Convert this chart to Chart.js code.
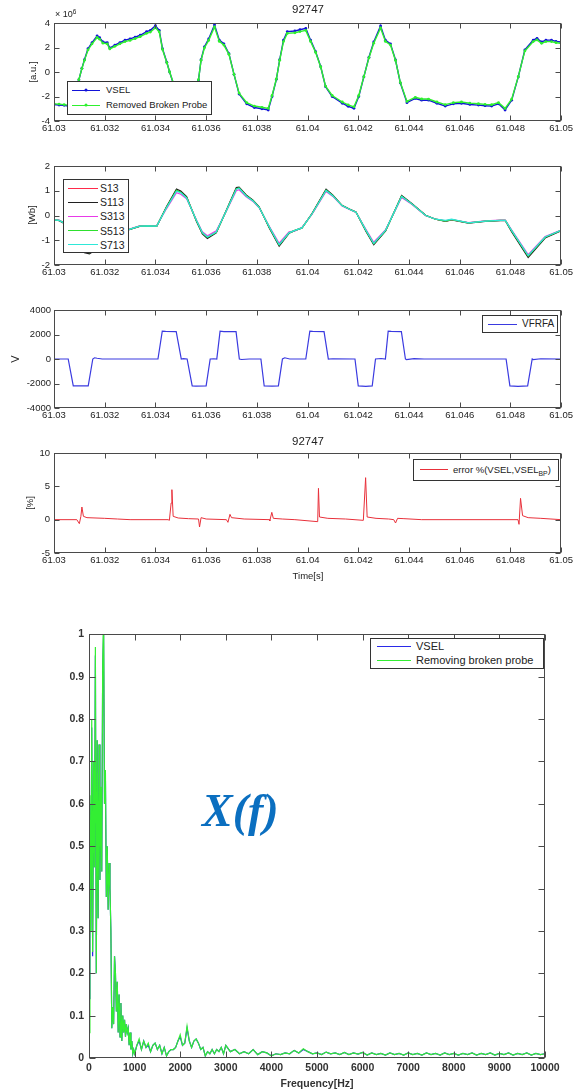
<!DOCTYPE html>
<html><head><meta charset="utf-8">
<script src="https://cdn.jsdelivr.net/npm/chart.js@4.4.1/dist/chart.umd.min.js"></script>
<style>
html,body{margin:0;padding:0;background:#fff;overflow:hidden;}
#wrap{position:relative;width:575px;height:1091px;font-family:"Liberation Sans",Arial,sans-serif;color:#222;}
canvas{position:absolute;left:0;}
.t{position:absolute;white-space:nowrap;line-height:1;}
.c{transform:translate(-50%,-50%);}
.r{transform:translate(-50%,-50%) rotate(-90deg);}
.leg{position:absolute;background:#fff;border:1px solid #333;box-sizing:border-box;z-index:2;}
.sw{position:absolute;height:0;}
.dot{position:absolute;width:3px;height:3px;border-radius:50%;transform:translate(-50%,-50%);}
.lab{position:absolute;transform:translateY(-50%);white-space:nowrap;line-height:1;color:#222;}
sub{font-size:0.72em;vertical-align:-0.35em;line-height:0;}
sup{font-size:0.72em;vertical-align:0.45em;line-height:0;}
</style></head>
<body><div id="wrap"></div>
<script>
// ---------------- DATA ----------------
const timeTicks = [61.03,61.032,61.034,61.036,61.038,61.04,61.042,61.044,61.046,61.048,61.05];

// Panel 1: VSEL vs Removed Broken Probe [a.u. x 1e6]
const t1 = [61.0300,61.0302,61.0304,61.0306,61.0307,61.0309,61.03098,61.0311,61.0312,61.03134,
61.0315,61.0317,61.0318,61.03193,61.0321,61.0322,61.0324,61.0326,61.0328,61.0330,
61.0332,61.0334,61.03365,61.0338,61.0340,61.03415,61.03428,61.03445,61.03456,61.0347,
61.0349,61.0351,61.03523,61.0354,61.0356,61.0357,61.0358,61.03593,61.0361,61.03633,
61.03652,61.0367,61.0369,61.0371,61.0373,61.0376,61.0379,61.0382,61.03845,61.0386,
61.03877,61.0389,61.03905,61.0392,61.0395,61.0397,61.03993,61.04012,61.04032,61.04052,
61.04071,61.04097,61.04137,61.0416,61.04183,61.04202,61.04222,61.04242,61.04261,61.04288,
61.04307,61.04327,61.04347,61.04366,61.04392,61.04425,61.0445,61.04477,61.0451,61.04543,
61.04575,61.04607,61.0464,61.04674,61.047,61.04726,61.04753,61.04779,61.04805,61.04831,
61.04857,61.0489,61.04905,61.04923,61.0494,61.04962,61.0498,61.0500];
const vsel = [-2.65,-2.70,-2.72,-2.80,-2.70,-1.60,-0.65,0.30,1.00,1.90,
2.40,2.95,2.80,2.45,2.40,1.96,2.20,2.40,2.60,2.70,
2.85,3.00,3.30,3.40,3.78,3.40,1.90,0.80,0.00,-0.90,
-2.20,-3.10,-3.40,-2.80,-1.30,-0.65,1.00,2.05,2.70,3.85,
2.60,2.30,1.50,-0.20,-1.80,-2.60,-2.90,-3.00,-3.10,-2.00,
-0.60,1.00,2.60,3.30,3.35,3.45,3.56,2.60,1.66,0.43,
-1.20,-2.00,-2.55,-2.80,-2.96,-2.00,-0.40,1.20,2.45,3.76,
2.60,2.30,0.98,-0.90,-2.50,-2.16,-2.30,-2.30,-2.55,-2.78,
-2.60,-2.55,-2.65,-2.70,-2.75,-2.78,-2.60,-3.10,-2.30,-0.40,
1.80,2.60,2.75,2.45,2.60,2.60,2.50,2.45];
const removedBP = [-2.60,-2.62,-2.66,-2.72,-2.64,-1.55,-0.62,0.28,0.95,1.80,
2.30,2.82,2.68,2.35,2.30,1.88,2.10,2.30,2.48,2.58,
2.72,2.88,3.16,3.26,3.62,3.28,1.84,0.76,0.00,-0.86,
-2.10,-2.98,-3.26,-2.70,-1.25,-0.62,0.95,1.96,2.58,3.68,
2.50,2.20,1.44,-0.19,-1.72,-2.50,-2.78,-2.88,-2.97,-1.92,
-0.57,0.95,2.48,3.15,3.20,3.30,3.40,2.50,1.60,0.41,
-1.15,-1.92,-2.45,-2.68,-2.84,-1.92,-0.38,1.15,2.35,3.60,
2.50,2.20,0.94,-0.86,-2.40,-2.07,-2.20,-2.21,-2.45,-2.66,
-2.50,-2.45,-2.54,-2.59,-2.64,-2.67,-2.50,-2.97,-2.21,-0.38,
1.72,2.48,2.62,2.34,2.48,2.48,2.39,2.34];
const p1YTicks = [-4,-2,0,2,4];

// Panel 2: fluxes [Wb]
const t2 = [61.0300,61.0302,61.0304,61.0306,61.0309,61.0312,61.0314,61.0317,61.0321,61.0326,
61.0330,61.03338,61.0337,61.03405,61.03444,61.03483,61.0350,61.03523,61.03562,61.03585,
61.03605,61.0364,61.0368,61.03719,61.0373,61.03758,61.03785,61.03809,61.03849,61.03888,
61.03927,61.0395,61.03978,61.04018,61.04073,61.0410,61.04136,61.04165,61.04191,61.0423,
61.04261,61.04308,61.04371,61.04411,61.04466,61.04505,61.04544,61.04568,61.04635,61.04701,
61.0476,61.0478,61.04804,61.0487,61.04937,61.0500];
const s13 = [-0.18,-0.20,-0.30,-0.60,-1.10,-1.45,-1.50,-1.30,-0.90,-0.65,
-0.55,-0.43,-0.42,-0.43,0.33,1.03,0.95,0.73,-0.21,-0.70,
-0.88,-0.68,0.20,1.08,1.12,0.80,0.60,0.33,-0.47,-1.20,
-0.70,-0.60,-0.50,0.07,1.03,0.80,0.40,0.25,0.13,-0.60,
-1.15,-0.60,0.78,0.47,0.00,-0.15,-0.23,-0.17,-0.30,-0.23,
-0.20,-0.20,-0.60,-1.65,-0.88,-0.60];
const s113 = [-0.18,-0.21,-0.32,-0.63,-1.15,-1.50,-1.55,-1.34,-0.93,-0.67,
-0.56,-0.44,-0.43,-0.44,0.36,1.07,0.99,0.76,-0.24,-0.74,
-0.93,-0.70,0.22,1.13,1.15,0.83,0.62,0.35,-0.50,-1.24,
-0.72,-0.61,-0.51,0.09,1.06,0.82,0.41,0.26,0.14,-0.63,
-1.18,-0.62,0.81,0.49,0.01,-0.15,-0.24,-0.18,-0.31,-0.24,
-0.21,-0.21,-0.64,-1.70,-0.91,-0.62];
const s313 = [-0.17,-0.19,-0.29,-0.57,-1.05,-1.40,-1.45,-1.26,-0.87,-0.63,
-0.54,-0.42,-0.41,-0.42,0.28,0.92,0.86,0.68,-0.18,-0.66,
-0.82,-0.62,0.18,1.00,1.04,0.76,0.57,0.31,-0.44,-1.12,
-0.66,-0.62,-0.48,0.05,0.97,0.77,0.38,0.24,0.12,-0.56,
-1.08,-0.57,0.73,0.45,-0.01,-0.14,-0.22,-0.17,-0.29,-0.22,
-0.19,-0.19,-0.57,-1.58,-0.85,-0.59];
const s513 = [-0.18,-0.20,-0.30,-0.60,-1.10,-1.45,-1.50,-1.30,-0.90,-0.65,
-0.55,-0.43,-0.42,-0.43,0.33,1.02,0.94,0.72,-0.21,-0.70,
-0.88,-0.68,0.20,1.08,1.11,0.80,0.60,0.33,-0.47,-1.19,
-0.70,-0.60,-0.50,0.07,1.02,0.80,0.40,0.25,0.13,-0.60,
-1.14,-0.60,0.78,0.47,0.00,-0.15,-0.23,-0.17,-0.30,-0.23,
-0.20,-0.20,-0.60,-1.64,-0.88,-0.60];
const s713 = [-0.18,-0.20,-0.30,-0.60,-1.10,-1.44,-1.49,-1.29,-0.90,-0.65,
-0.55,-0.43,-0.42,-0.43,0.32,0.98,0.92,0.71,-0.20,-0.69,
-0.87,-0.67,0.20,1.06,1.10,0.79,0.59,0.33,-0.46,-1.18,
-0.70,-0.60,-0.50,0.07,1.01,0.79,0.40,0.25,0.13,-0.59,
-1.13,-0.59,0.77,0.47,0.00,-0.15,-0.20,-0.15,-0.30,-0.23,
-0.20,-0.20,-0.59,-1.62,-0.87,-0.60];
const p2YTicks = [-2,-1,0,1,2];

// Panel 3: VFRFA [V]
const t3 = [61.0300,61.03056,61.03076,61.03135,61.03153,61.0316,61.0317,61.0319,61.0341,61.03427,
61.0344,61.03482,61.03502,61.0351,61.03525,61.03545,61.0356,61.0360,61.03616,61.0363,
61.03642,61.03655,61.0367,61.03718,61.03731,61.0374,61.0377,61.03816,61.03829,61.0386,
61.03885,61.03901,61.0391,61.0393,61.03993,61.04009,61.0402,61.04065,61.04082,61.041,
61.04187,61.042,61.0423,61.04255,61.04268,61.0429,61.04307,61.04318,61.0433,61.0437,
61.04386,61.0439,61.0442,61.0446,61.04783,61.04798,61.0483,61.04868,61.04886,61.0489,
61.0492,61.0500];
const vfrfa = [0,0,-2200,-2200,0,100,60,0,0,2280,
2250,2240,0,30,0,-2200,-2220,-2200,0,20,
0,2270,2240,2230,0,-40,0,0,-2200,-2220,
-2200,0,100,0,0,2280,2250,2240,0,20,
0,-2200,-2230,-2200,0,40,0,2280,2250,2240,
0,-50,30,0,0,-2200,-2230,-2200,0,-50,
20,0];
const p3YTicks = [-4000,-2000,0,2000,4000];

// Panel 4: error % (VSEL, VSEL_BP)
const t4 = [61.0300,61.0309,61.0310,61.03106,61.0311,61.03116,61.0313,61.0320,61.0325,61.0330,
61.0345,61.03455,61.03462,61.03465,61.0347,61.0349,61.0353,61.0357,61.03574,61.0358,
61.0360,61.0368,61.03686,61.03694,61.0370,61.0375,61.0385,61.03851,61.03859,61.03865,
61.0390,61.0395,61.0404,61.04043,61.04047,61.0408,61.0415,61.0422,61.04229,61.04235,
61.0427,61.0432,61.0434,61.04347,61.04355,61.0438,61.0445,61.0483,61.04834,61.0484,
61.04848,61.0487,61.0492,61.0496,61.0500];
const errPct = [0,0,-0.6,0.5,1.9,0.5,0.3,0.2,0.1,0,
0,-0.1,2.5,4.5,0.5,0.25,0.15,0.1,-1.1,0.3,
0.1,0,-0.4,0.8,0.3,0.1,0,-0.2,1.1,0.2,
0.1,0,-0.3,4.7,0.4,0.2,0.1,-0.1,6.3,0.4,
0.2,0.1,0,-0.5,0.2,0.15,0,0,-0.7,3.2,
0.6,0.3,0.2,0.1,0];
const p4YTicks = [-5,0,5,10];

// Panel 5: spectrum X(f)
const freqHz = [0,20,40,60,80,100,120,140,160,180,200,220,240,260,280,300,320,340,360,380,
400,420,440,460,480,500,520,540,560,580,600,620,640,660,680,700,720,740,760,780,
800,820,840,860,880,900,920,940,960,980,1000,
1050,1100,1150,1200,1250,1300,1350,1400,1450,1500,1550,1600,1650,1700,1750,1800,1850,1900,1950,2000,
2050,2100,2150,2200,2250,2300,2350,2400,2450,2500,2550,2600,2650,2700,2750,2800,2850,2900,2950,3000,
3100,3200,3300,3400,3500,3600,3700,3800,3900,4000,4100,4200,4300,4400,4500,4600,4700,4800,4900,5000,
5100,5200,5300,5400,5500,5600,5700,5800,5900,6000,6100,6200,6300,6400,6500,6600,6700,6800,6900,7000,
7100,7200,7300,7400,7500,7600,7700,7800,7900,8000,8100,8200,8300,8400,8500,8600,8700,8800,8900,9000,
9100,9200,9300,9400,9500,9600,9700,9800,9900,10000];
const fftVsel = [0.14,0.60,0.30,0.78,0.24,0.70,0.45,0.95,0.20,0.75,0.33,0.74,0.42,0.62,0.44,0.92,1.00,0.60,0.66,0.38,
0.50,0.35,0.46,0.40,0.30,0.07,0.12,0.08,0.24,0.20,0.11,0.18,0.06,0.15,0.05,0.13,0.04,0.10,0.06,0.09,
0.05,0.08,0.06,0.07,0.03,0.06,0.02,0.04,0.01,0.02,0.01,
0.03,0.04,0.02,0.04,0.025,0.03,0.015,0.03,0.035,0.02,0.03,0.01,0.025,0.005,0.015,0.02,0.02,0.025,0.04,0.05,
0.03,0.035,0.07,0.04,0.025,0.04,0.045,0.035,0.02,0.025,0.005,0.015,0.01,0.02,0.01,0.02,0.015,0.025,0.01,0.03,
0.015,0.02,0.01,0.015,0.01,0.02,0.008,0.015,0.012,0.005,0.01,0.008,0.012,0.01,0.018,0.012,0.02,0.015,0.01,0.012,
0.008,0.014,0.01,0.012,0.008,0.013,0.008,0.012,0.009,0.013,0.007,0.012,0.008,0.011,0.007,0.012,0.008,0.011,0.007,0.012,
0.008,0.011,0.007,0.012,0.008,0.011,0.007,0.012,0.008,0.011,0.007,0.011,0.008,0.012,0.007,0.011,0.008,0.012,0.007,0.011,
0.008,0.012,0.007,0.011,0.008,0.012,0.007,0.011,0.008,0.01];
const fftRemoved = [0.06,0.62,0.30,0.80,0.25,0.70,0.45,0.97,0.20,0.75,0.33,0.74,0.42,0.64,0.44,0.93,1.05,0.60,0.68,0.38,
0.50,0.35,0.46,0.40,0.30,0.07,0.12,0.08,0.24,0.20,0.11,0.18,0.06,0.15,0.05,0.13,0.04,0.10,0.06,0.09,
0.05,0.08,0.06,0.07,0.03,0.06,0.02,0.04,0.01,0.02,0.01,
0.03,0.045,0.02,0.04,0.025,0.035,0.015,0.03,0.035,0.02,0.03,0.01,0.025,0.005,0.015,0.02,0.02,0.025,0.04,0.055,
0.03,0.035,0.075,0.04,0.025,0.04,0.045,0.035,0.02,0.025,0.005,0.015,0.01,0.02,0.01,0.02,0.015,0.025,0.01,0.03,
0.015,0.02,0.01,0.015,0.01,0.02,0.008,0.015,0.012,0.005,0.01,0.008,0.012,0.01,0.018,0.012,0.022,0.015,0.01,0.012,
0.008,0.014,0.01,0.012,0.008,0.013,0.008,0.012,0.009,0.013,0.007,0.012,0.008,0.011,0.007,0.012,0.008,0.011,0.007,0.012,
0.008,0.011,0.007,0.012,0.008,0.011,0.007,0.012,0.008,0.011,0.007,0.011,0.008,0.012,0.007,0.011,0.008,0.012,0.007,0.011,
0.008,0.012,0.007,0.011,0.008,0.012,0.007,0.011,0.008,0.01];
const freqTicks = [0,1000,2000,3000,4000,5000,6000,7000,8000,9000,10000];
const fftYTicks = [0,0.1,0.2,0.3,0.4,0.5,0.6,0.7,0.8,0.9,1];

// ---------------- RENDER ----------------
const W = 575;
const wrap = document.getElementById('wrap');

const innerTicks = {
  id:'innerTicks',
  afterDatasetsDraw(chart, args, o){
    const {ctx, chartArea:a, scales} = chart;
    const x = scales.x, y = scales.y;
    ctx.save();
    ctx.strokeStyle = o.color; ctx.lineWidth = 1;
    const l = Math.round(a.left)+0.5, r = Math.round(a.right)-0.5, t = Math.round(a.top)+0.5, b = Math.round(a.bottom)-0.5;
    ctx.beginPath();
    x.ticks.forEach(tk=>{const p=Math.round(x.getPixelForValue(tk.value))+0.5; ctx.moveTo(p,b); ctx.lineTo(p,b-o.len); ctx.moveTo(p,t); ctx.lineTo(p,t+o.len);});
    y.ticks.forEach(tk=>{const p=Math.round(y.getPixelForValue(tk.value))+0.5; ctx.moveTo(l,p); ctx.lineTo(l+o.len,p); ctx.moveTo(r,p); ctx.lineTo(r-o.len,p);});
    ctx.stroke();
    ctx.strokeRect(l,t,r-l,b-t);
    ctx.restore();
  }
};
Chart.register(innerTicks);

function xy(xs, ys){ return xs.map((v,i)=>({x:v, y:ys[i]})); }

function panel(g){
  const padTop = 10, xH = g.xH || 24;
  const h = padTop + (g.B - g.T) + xH;
  const c = document.createElement('canvas');
  c.width = W; c.height = h;
  c.style.top = (g.T - padTop)+'px'; c.style.width = W+'px'; c.style.height = h+'px';
  wrap.appendChild(c);
  const font = g.font;
  return new Chart(c.getContext('2d'), {
    type:'line',
    data:{datasets:g.datasets},
    options:{
      responsive:false, animation:false, devicePixelRatio:1,
      layout:{padding:{left:0,right:W-g.R,top:padTop,bottom:0}},
      plugins:{legend:{display:false}, tooltip:{enabled:false}, innerTicks:{len:g.tickLen, color:'#4a4a4a'}},
      elements:{line:{tension:0}},
      scales:{
        x:{type:'linear', min:g.xMin, max:g.xMax,
           afterBuildTicks:s=>{s.ticks = g.xTicks.map(v=>({value:v}));},
           afterFit:s=>{s.height = xH;},
           grid:{display:false, drawTicks:false, tickLength:0}, border:{display:false},
           ticks:{font, color:g.tickColor, padding:g.xPad, maxRotation:0, autoSkip:false, callback:g.xFmt}},
        y:{type:'linear', min:g.yMin, max:g.yMax,
           afterBuildTicks:s=>{s.ticks = g.yTicks.map(v=>({value:v}));},
           afterFit:s=>{s.width = g.L;},
           grid:{display:false, drawTicks:false, tickLength:0}, border:{display:false},
           ticks:{font, color:g.tickColor, padding:g.yPad, autoSkip:false, callback:g.yFmt}}
      }
    }
  });
}

function text(html, x, y, cls, style){
  const d = document.createElement('div');
  d.className = 't ' + cls; d.innerHTML = html;
  d.style.left = x+'px'; d.style.top = y+'px';
  if (style) d.style.cssText += style;
  wrap.appendChild(d);
}

function legend(chart, g){
  const box = document.createElement('div'); box.className = 'leg';
  box.style.cssText += `left:${g.left}px;top:${g.top}px;width:${g.w}px;height:${g.h}px;font-size:${g.fs}px;`;
  chart.data.datasets.forEach((ds,i)=>{
    const y = g.y0 + i*g.dy;
    const sw = document.createElement('div'); sw.className='sw';
    sw.style.cssText += `left:${g.sx0}px;width:${g.sx1-g.sx0}px;top:${y-0.5}px;border-top:1px solid ${ds.borderColor};`;
    box.appendChild(sw);
    if (g.marker){
      const d = document.createElement('div'); d.className='dot';
      d.style.cssText += `left:${(g.sx0+g.sx1)/2}px;top:${y}px;background:${ds.borderColor};`;
      box.appendChild(d);
    }
    const lab = document.createElement('div'); lab.className='lab';
    lab.style.cssText += `left:${g.tx}px;top:${y}px;`;
    lab.innerHTML = (g.html && g.html[i]) || ds.label;
    box.appendChild(lab);
  });
  wrap.appendChild(box);
}

const fontS = {family:'"Liberation Sans", Arial, sans-serif', size:9.5};
const fontB = {family:'"Liberation Sans", Arial, sans-serif', size:10.5, weight:'bold'};
const tFmt = v => String(+(+v).toFixed(3));
const plain = v => String(v);

const BLUE = '#1212d8', GREEN = '#2ef02e';

// Panel 1
const ch1 = panel({T:23,B:121,L:54,R:563, xMin:61.03,xMax:61.05, xTicks:timeTicks, yMin:-4,yMax:4, yTicks:p1YTicks,
  font:fontS, tickColor:'#222', xPad:2, yPad:4, tickLen:5, xFmt:tFmt, yFmt:plain,
  datasets:[
    {label:'VSEL', data:xy(t1,vsel), order:1, borderColor:BLUE, borderWidth:1.4, pointRadius:1.4, pointBackgroundColor:BLUE, pointBorderWidth:0},
    {label:'Removed Broken Probe', data:xy(t1,removedBP), order:0, borderColor:GREEN, borderWidth:1.4, pointRadius:1.4, pointBackgroundColor:GREEN, pointBorderWidth:0}
  ]});
legend(ch1,{left:67,top:81,w:145,h:34,fs:9.5,y0:8,dy:15,sx0:4,sx1:32,tx:38,marker:true});

// Panel 2
const ch2 = panel({T:166,B:265,L:54,R:563, xMin:61.03,xMax:61.05, xTicks:timeTicks, yMin:-2,yMax:2, yTicks:p2YTicks,
  font:fontS, tickColor:'#222', xPad:2, yPad:4, tickLen:5, xFmt:tFmt, yFmt:plain,
  datasets:[
    {label:'S13', data:xy(t2,s13), order:4, borderColor:'#ff2a4a', borderWidth:1.2, pointRadius:0},
    {label:'S113', data:xy(t2,s113), order:3, borderColor:'#202020', borderWidth:1.2, pointRadius:0},
    {label:'S313', data:xy(t2,s313), order:2, borderColor:'#e83ae8', borderWidth:1.2, pointRadius:0},
    {label:'S513', data:xy(t2,s513), order:1, borderColor:'#2ee02e', borderWidth:1.2, pointRadius:0},
    {label:'S713', data:xy(t2,s713), order:0, borderColor:'#2ee8d8', borderWidth:1.2, pointRadius:0}
  ]});
legend(ch2,{left:63,top:179,w:66,h:74,fs:10.5,y0:8,dy:14.2,sx0:4,sx1:34,tx:36});

// Panel 3
const ch3 = panel({T:310,B:408,L:54,R:563, xMin:61.03,xMax:61.05, xTicks:timeTicks, yMin:-4000,yMax:4000, yTicks:p3YTicks,
  font:fontS, tickColor:'#222', xPad:2, yPad:3, tickLen:5, xFmt:tFmt, yFmt:plain,
  datasets:[
    {label:'VFRFA', data:xy(t3,vfrfa), borderColor:'#3a3ae0', borderWidth:1.2, pointRadius:0}
  ]});
legend(ch3,{left:482,top:315,w:76,h:18,fs:10,y0:8,dy:0,sx0:5,sx1:34,tx:39});

// Panel 4
const ch4 = panel({T:453,B:553,L:54,R:563, xMin:61.03,xMax:61.05, xTicks:timeTicks, yMin:-5,yMax:10, yTicks:p4YTicks,
  font:fontS, tickColor:'#222', xPad:2, yPad:4, tickLen:5, xFmt:tFmt, yFmt:plain,
  datasets:[
    {label:'error %(VSEL,VSEL_BP)', data:xy(t4,errPct), borderColor:'#e8303a', borderWidth:1, pointRadius:0}
  ]});
legend(ch4,{left:413,top:459,w:146,h:22,fs:9.5,y0:9.5,dy:0,sx0:6,sx1:34,tx:39,html:['error %(VSEL,VSEL<sub>BP</sub>)']});

// Panel 5
const ch5 = panel({T:633,B:1058,L:89,R:545, xMin:0,xMax:10000, xTicks:freqTicks, yMin:0,yMax:1, yTicks:fftYTicks,
  font:fontB, tickColor:'#333', xPad:4, yPad:5, tickLen:6, xFmt:plain, yFmt:v=>String(+(+v).toFixed(1)),
  datasets:[
    {label:'VSEL', data:xy(freqHz,fftVsel), order:1, borderColor:'#2a2ae8', borderWidth:1.2, pointRadius:0},
    {label:'Removing broken probe', data:xy(freqHz,fftRemoved), order:0, borderColor:'#33ee33', borderWidth:1.2, pointRadius:0}
  ]});
legend(ch5,{left:370,top:638,w:174,h:31,fs:11,y0:7,dy:14,sx0:6,sx1:40,tx:45});

// Titles and axis labels
text('92747', 308, 10, 'c', 'font-size:11.5px;');
text('× 10<sup>6</sup>', 55, 10, '', 'font-size:9px;');
text('[a.u.]', 33, 72, 'r', 'font-size:9.5px;');
text('[Wb]', 32, 215, 'r', 'font-size:9.5px;');
text('V', 15, 359, 'r', 'font-size:11px;');
text('92747', 308, 442, 'c', 'font-size:11.5px;');
text('[%]', 30, 503, 'r', 'font-size:9.5px;');
text('Time[s]', 308, 576, 'c', 'font-size:9.5px;');
text('Frequency[Hz]', 317, 1083, 'c', 'font-size:10.5px;font-weight:bold;color:#333;');
text('X(f)', 202, 788, '', 'font-family:"Liberation Serif","Times New Roman",serif;font-style:italic;font-weight:bold;font-size:46px;color:#0b6fc0;');
</script>
</body></html>
